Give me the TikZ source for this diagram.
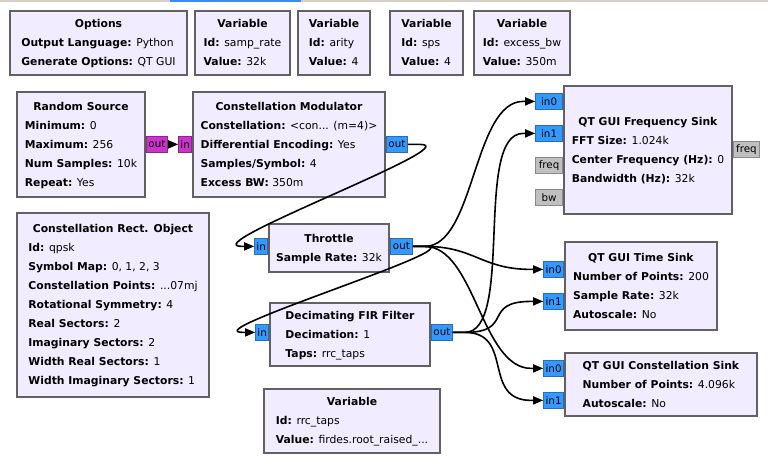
\documentclass[tikz,border=0pt]{standalone}
\usepackage{fontspec}
\setmainfont{DejaVu Sans}
\usepackage{xcolor}
\usetikzlibrary{arrows.meta, positioning}
\definecolor{lavender}{HTML}{F1ECFF}
\definecolor{edgegrey}{HTML}{616161}
\definecolor{portblue}{HTML}{3399FF}
\definecolor{portblueedge}{HTML}{2A6DB5}
\definecolor{portmagenta}{HTML}{CC33CC}
\definecolor{portmagentaedge}{HTML}{8E238E}
\definecolor{portgrey}{HTML}{C0C0C0}
\definecolor{portgreyedge}{HTML}{8A8A8A}
\definecolor{tabgrey}{HTML}{D4D0C8}
\definecolor{tabblue}{HTML}{3C8CE8}
\tikzset{
  block/.style={rectangle, draw=edgegrey, line width=2pt, fill=lavender,
    anchor=north west, inner sep=0pt, font=\fontsize{10.8}{19}\selectfont},
  port/.style={rectangle, draw=portblueedge, line width=0.8pt, fill=portblue,
    inner sep=0pt, minimum height=16pt, font=\fontsize{10.3}{12}\selectfont},
  byteport/.style={port, draw=portmagentaedge, fill=portmagenta},
  msgport/.style={port, draw=portgreyedge, fill=portgrey},
  wire/.style={line width=1.6pt, -{Triangle[length=10pt,width=8pt]}}
}

\begin{document}
\begin{tikzpicture}[x=1pt, y=-1pt]

  \useasboundingbox[fill=white] (0,0) rectangle (768,460);
  \fill[tabgrey] (0,0) rectangle (768,2);
  \fill[tabblue] (170,0) rectangle (301,2);

  % --- Options y variables ---
  \node[block, minimum width=177pt, minimum height=64pt] (opts) at (9,10)
    {\begin{tabular}{@{}l@{}}\multicolumn{1}{@{}c@{}}{\textbf{Options}}\\
     \textbf{Output Language:} Python\\
     \textbf{Generate Options:} QT GUI\end{tabular}};
  \node[block, minimum width=95pt, minimum height=64pt] (vsamp) at (194,10)
    {\begin{tabular}{@{}l@{}}\multicolumn{1}{@{}c@{}}{\textbf{Variable}}\\
     \textbf{Id:} samp\_rate\\
     \textbf{Value:} 32k\end{tabular}};
  \node[block, minimum width=72pt, minimum height=64pt] (varity) at (297,10)
    {\begin{tabular}{@{}l@{}}\multicolumn{1}{@{}c@{}}{\textbf{Variable}}\\
     \textbf{Id:} arity\\
     \textbf{Value:} 4\end{tabular}};
  \node[block, minimum width=73pt, minimum height=64pt] (vsps) at (389,10)
    {\begin{tabular}{@{}l@{}}\multicolumn{1}{@{}c@{}}{\textbf{Variable}}\\
     \textbf{Id:} sps\\
     \textbf{Value:} 4\end{tabular}};
  \node[block, minimum width=96pt, minimum height=64pt] (vebw) at (473,10)
    {\begin{tabular}{@{}l@{}}\multicolumn{1}{@{}c@{}}{\textbf{Variable}}\\
     \textbf{Id:} excess\_bw\\
     \textbf{Value:} 350m\end{tabular}};

  % --- Fuente y modulador ---
  \node[block, minimum width=128pt, minimum height=105pt] (rsrc) at (16,91)
    {\begin{tabular}{@{}l@{}}\multicolumn{1}{@{}c@{}}{\textbf{Random Source}}\\
     \textbf{Minimum:} 0\\
     \textbf{Maximum:} 256\\
     \textbf{Num Samples:} 10k\\
     \textbf{Repeat:} Yes\end{tabular}};
  \node[block, minimum width=192pt, minimum height=105pt] (cmod) at (192,91)
    {\begin{tabular}{@{}l@{}}\multicolumn{1}{@{}c@{}}{\textbf{Constellation Modulator}}\\
     \textbf{Constellation:} <con... (m=4)>\\
     \textbf{Differential Encoding:} Yes\\
     \textbf{Samples/Symbol:} 4\\
     \textbf{Excess BW:} 350m\end{tabular}};
  \node[block, minimum width=192pt, minimum height=184pt] (crect) at (16,212)
    {\begin{tabular}{@{}l@{}}\multicolumn{1}{@{}c@{}}{\textbf{Constellation Rect. Object}}\\
     \textbf{Id:} qpsk\\
     \textbf{Symbol Map:} 0, 1, 2, 3\\
     \textbf{Constellation Points:} ...07mj\\
     \textbf{Rotational Symmetry:} 4\\
     \textbf{Real Sectors:} 2\\
     \textbf{Imaginary Sectors:} 2\\
     \textbf{Width Real Sectors:} 1\\
     \textbf{Width Imaginary Sectors:} 1\end{tabular}};

  % --- Throttle y filtro ---
  \node[block, minimum width=120pt, minimum height=48pt] (thr) at (268,223)
    {\begin{tabular}{@{}l@{}}\multicolumn{1}{@{}c@{}}{\textbf{Throttle}}\\
     \textbf{Sample Rate:} 32k\end{tabular}};
  \node[block, minimum width=160pt, minimum height=63pt] (fir) at (269,302)
    {\begin{tabular}{@{}l@{}}\multicolumn{1}{@{}c@{}}{\textbf{Decimating FIR Filter}}\\
     \textbf{Decimation:} 1\\
     \textbf{Taps:} rrc\_taps\end{tabular}};
  \node[block, minimum width=176pt, minimum height=64pt] (vrrc) at (263,388)
    {\begin{tabular}{@{}l@{}}\multicolumn{1}{@{}c@{}}{\textbf{Variable}}\\
     \textbf{Id:} rrc\_taps\\
     \textbf{Value:} firdes.root\_raised\_...\end{tabular}};

  % --- Sumideros QT GUI ---
  \node[block, minimum width=168pt, minimum height=128pt] (fsink) at (563,85)
    {\begin{tabular}{@{}l@{}}\multicolumn{1}{@{}c@{}}{\textbf{QT GUI Frequency Sink}}\\
     \textbf{FFT Size:} 1.024k\\
     \textbf{Center Frequency (Hz):} 0\\
     \textbf{Bandwidth (Hz):} 32k\end{tabular}};
  \node[block, minimum width=152pt, minimum height=88pt] (tsink) at (564,241)
    {\begin{tabular}{@{}l@{}}\multicolumn{1}{@{}c@{}}{\textbf{QT GUI Time Sink}}\\
     \textbf{Number of Points:} 200\\
     \textbf{Sample Rate:} 32k\\
     \textbf{Autoscale:} No\end{tabular}};
  \node[block, minimum width=192pt, minimum height=63pt] (csink) at (564,352)
    {\begin{tabular}{@{}l@{}}\multicolumn{1}{@{}c@{}}{\textbf{QT GUI Constellation Sink}}\\
     \textbf{Number of Points:} 4.096k\\
     \textbf{Autoscale:} No\end{tabular}};

  % --- Puertos ---
  \node[byteport, minimum width=21pt, anchor=north west] (rsout) at ([yshift=-45pt]rsrc.north east) {out};
  \node[byteport, minimum width=13pt, anchor=north east] (cmin) at ([yshift=-45pt]cmod.north west) {in};
  \node[port, minimum width=21pt, anchor=north west] (cmout) at ([yshift=-45pt]cmod.north east) {out};
  \node[port, minimum width=13pt, anchor=north east] (thin) at ([yshift=-15pt]thr.north west) {in};
  \node[port, minimum width=22pt, anchor=north west] (thout) at ([yshift=-15pt]thr.north east) {out};
  \node[port, minimum width=13pt, anchor=north east] (firin) at ([yshift=-22pt]fir.north west) {in};
  \node[port, minimum width=21pt, anchor=north west] (firout) at ([yshift=-22pt]fir.north east) {out};
  \node[port, minimum width=27pt, anchor=north east] (fin0) at ([yshift=-8pt]fsink.north west) {in0};
  \node[port, minimum width=27pt, anchor=north east] (fin1) at ([yshift=-40pt]fsink.north west) {in1};
  \node[msgport, minimum width=27pt, anchor=north east] (ffreq) at ([yshift=-72pt]fsink.north west) {freq};
  \node[msgport, minimum width=27pt, anchor=north east] (fbw) at ([yshift=-104pt]fsink.north west) {bw};
  \node[msgport, minimum width=26pt, anchor=north west] (fout) at ([yshift=-56pt]fsink.north east) {freq};
  \node[port, minimum width=20pt, anchor=north east] (tin0) at ([yshift=-20pt]tsink.north west) {in0};
  \node[port, minimum width=20pt, anchor=north east] (tin1) at ([yshift=-52pt]tsink.north west) {in1};
  \node[port, minimum width=20pt, anchor=north east] (cin0) at ([yshift=-8pt]csink.north west) {in0};
  \node[port, minimum width=20pt, anchor=north east] (cin1) at ([yshift=-40pt]csink.north west) {in1};

  % --- Conexiones ---
  \draw[wire] (rsout.east) -- (cmin.west);
  \foreach \src/\dst in {cmout/thin, thout/firin, thout/fin0, thout/tin0, thout/cin0,
                         firout/fin1, firout/tin1, firout/cin1}
    \draw[wire] (\src.east) -- ++(12,0) .. controls +(50,0) and +(-50,0)
      .. ([xshift=-12pt]\dst.west) -- (\dst.west);

\end{tikzpicture}
\end{document}
